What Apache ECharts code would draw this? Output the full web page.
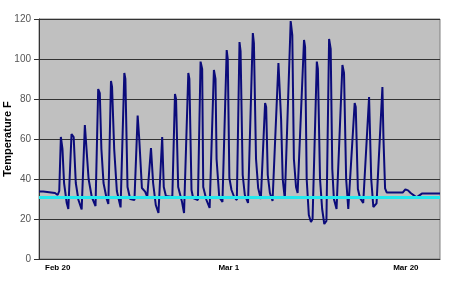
<!DOCTYPE html>
<html>
<head>
<meta charset="utf-8">
<script src="https://cdn.jsdelivr.net/npm/echarts@6/dist/echarts.min.js"></script>
<style>
html,body{margin:0;padding:0;background:#fff;}
#c{width:450px;height:293px;}
</style>
</head>
<body>
<div id="c"></div>
<script>
// x positions in hours from the start of the record
var hours = [0,8,11,30,35,38,41,44,47,52,55,61,65,69,74,80,86,89,93,99,106,111,114,117,121,127,130,135,137,141,146,153,160,162,166,171,179,185,188,193,199,203,210,214,219,224,231,234,238,250,255,257,261,268,272,280,282,286,289,298,303,306,308,314,320,328,331,333,338,344,352,354,357,361,366,371,376,378,382,386,392,401,403,407,411,416,424,426,429,433,438,449,451,454,457,461,472,475,478,482,485,497,499,502,506,510,513,521,523,527,531,535,539,544,547,550,553,558,569,572,576,580,592,594,598,602,608,619,621,623,627,633,644,646,649,652,682,687,692,697,708,718,752];
// temperature readings, deg F
var tempF = [33.7,33.7,33,33,32,34,61,55,38,28,25,62.5,61,38,29.5,24.8,67,68,40,31,26.5,85,83,55,38,30,27.5,89,86,55,34,25.8,93,90,36,30,29.5,71.7,60,35.5,33.7,31,55.5,38,27,23,61,36,31.5,31,82.5,80,36,28.8,23,93,90,34.5,30.5,29.5,98.7,95,36,29.5,25.5,94.5,90,50,31,28.5,104.5,100,40.5,34.5,31,29.5,108.5,104,42,32,28,113,108,50,35.5,30,78,76,42,33,29,98,99,70,40,30,119,112,50,36,33,109.5,106,40,22,18.5,20,98.7,95,40,25,17.5,19,110,105,45,30,25,97,93,40,25,78,76,35,30.5,28,81,80,40,26,27.8,86,60,35.3,33.3,33.2,34.8,34.3,33,30.8,32.7,32.7];
var referenceTemp = 31;
var tickHours = [35, 356, 688];
var tickLabels = ['Feb 20', 'Mar 1', 'Mar 20'];
var yTicks = {min: 0, max: 120, step: 20};

var seriesData = hours.map(function (h, i) { return [h, tempF[i]]; });

var chart = echarts.init(document.getElementById('c'), null, {renderer: 'canvas'});
chart.setOption({
  animation: false,
  backgroundColor: '#ffffff',
  grid: {left: 39, right: 10, top: 19, bottom: 34, containLabel: false, outerBoundsMode: 'none', show: true, backgroundColor: '#c0c0c0', borderColor: '#808080', borderWidth: 1},
  xAxis: {
    type: 'value', min: 0, max: hours[hours.length - 1],
    axisLine: {show: true, lineStyle: {color: '#333', width: 1}},
    axisTick: {show: false},
    splitLine: {show: false},
    axisLabel: {
      customValues: tickHours,
      formatter: function (v) { var i = tickHours.indexOf(v); return i >= 0 ? tickLabels[i] : ''; },
      fontFamily: 'Liberation Sans, Arial, sans-serif', fontSize: 8, fontWeight: 'bold', color: '#000', margin: 5
    }
  },
  yAxis: {
    type: 'value', min: yTicks.min, max: yTicks.max, interval: yTicks.step,
    name: 'Temperature F', nameLocation: 'middle', nameGap: 26, nameMoveOverlap: false,
    nameTextStyle: {fontFamily: 'Liberation Sans, Arial, sans-serif', fontSize: 11, fontWeight: 'bold', color: '#000'},
    axisLine: {show: true, lineStyle: {color: '#333', width: 1}},
    axisTick: {show: true, length: 5, lineStyle: {color: '#333'}},
    splitLine: {show: true, lineStyle: {color: '#333', width: 1}},
    axisLabel: {fontFamily: 'Liberation Sans, Arial, sans-serif', fontSize: 10, color: '#555', margin: 8}
  },
  series: [
    {
      type: 'line', data: seriesData, showSymbol: false, symbol: 'none',
      lineStyle: {color: '#0b0b7a', width: 2}, z: 2
    },
    {
      type: 'line', data: [], z: 3,
      markLine: {
        silent: true, symbol: 'none', label: {show: false},
        lineStyle: {color: '#22e8ee', width: 3, type: 'solid'},
        data: [{yAxis: referenceTemp}]
      }
    }
  ]
});
</script>
</body>
</html>
